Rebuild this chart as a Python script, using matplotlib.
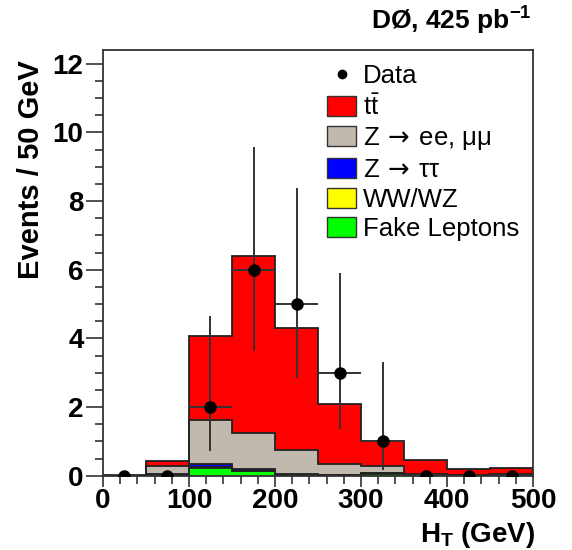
import numpy as np
import matplotlib
matplotlib.use("Agg")
import matplotlib.pyplot as plt
from matplotlib.patches import Patch
from matplotlib.lines import Line2D
from matplotlib.ticker import MultipleLocator

plt.rcParams['font.family'] = ['Liberation Sans', 'DejaVu Sans']
plt.rcParams['mathtext.default'] = 'regular'
plt.rcParams['mathtext.fontset'] = 'custom'
plt.rcParams['mathtext.rm'] = 'DejaVu Sans'

# binning: 50 GeV bins in H_T
edges = np.arange(0, 550, 50)
centers = edges[:-1] + 25

# stacked backgrounds, bottom to top
fake = [0.00, 0.02, 0.23, 0.14, 0.02, 0.00, 0.06, 0.00, 0.00, 0.00]
wwwz = [0.00, 0.01, 0.02, 0.01, 0.01, 0.01, 0.01, 0.00, 0.00, 0.00]
ztautau = [0.00, 0.01, 0.10, 0.04, 0.01, 0.01, 0.00, 0.00, 0.00, 0.00]
zll = [0.00, 0.25, 1.28, 1.05, 0.70, 0.33, 0.22, 0.05, 0.03, 0.05]
ttbar = [0.01, 0.13, 2.44, 5.16, 3.56, 1.74, 0.73, 0.42, 0.16, 0.19]

# data with asymmetric poisson errors
data = [0, 0, 2, 6, 5, 3, 1, 0, 0, 0]
err_lo = [0, 0, 1.29, 2.38, 2.16, 1.63, 0.83, 0, 0, 0]
err_hi = [0, 0, 2.64, 3.58, 3.38, 2.92, 2.30, 0, 0, 0]

components = [
    (fake, "#00ff00", "Fake Leptons"),
    (wwwz, "#ffff00", "WW/WZ"),
    (ztautau, "#0000ff", r"Z$\mathrm{\,\rightarrow\,}$ττ"),
    (zll, "#c2b9ae", r"Z$\mathrm{\,\rightarrow\,}$ee, μμ"),
    (ttbar, "#ff0000", r"$t\bar{t}$"),
]

fig = plt.figure(figsize=(5.72, 5.5), dpi=100)
ax = fig.add_axes([0.18, 0.135, 0.752, 0.774])

# cumulative sums, draw largest first
cums = np.cumsum([np.array(c[0]) for c in components], axis=0)
for i in range(len(components) - 1, -1, -1):
    ax.stairs(cums[i], edges, fill=True, facecolor=components[i][1],
              edgecolor="none", zorder=1 + (4 - i) * 0.01)
    ax.stairs(cums[i], edges, fill=False, color="#222222", lw=1.3,
              zorder=2 + (4 - i) * 0.01)

xerr = [25 if d > 0 else 0 for d in data]
ax.errorbar(centers, data, yerr=[err_lo, err_hi], xerr=xerr, fmt='o',
            color='black', ecolor='#333333', elinewidth=1.4, markersize=8,
            capsize=0, zorder=5)

ax.set_xlim(0, 500)
ax.set_ylim(0, 12.4)
ax.xaxis.set_major_locator(MultipleLocator(100))
ax.xaxis.set_minor_locator(MultipleLocator(20))
ax.yaxis.set_major_locator(MultipleLocator(2))
ax.yaxis.set_minor_locator(MultipleLocator(0.5))
ax.tick_params(which='both', direction='out', top=False, right=False,
               width=1.2, colors='#333333', labelcolor='black')
ax.tick_params(axis='y', which='major', length=12, labelsize=20, pad=2)
ax.tick_params(axis='x', which='major', length=8, labelsize=20, pad=1)
ax.tick_params(which='minor', length=6)
for lab in ax.get_xticklabels() + ax.get_yticklabels():
    lab.set_fontweight('bold')
for s in ax.spines.values():
    s.set_linewidth(1.3)
    s.set_color('#333333')

ax.set_xlabel(r"H$_T$ (GeV)", fontsize=20, fontweight='bold', loc='right')
ax.xaxis.set_label_coords(1.005, -0.103)
ax.set_ylabel("Events / 50 GeV", fontsize=21, fontweight='bold', loc='top')
ax.yaxis.set_label_coords(-0.135, 0.977)

handles = [Line2D([], [], marker='o', color='black', ls='none', markersize=6)]
labels = ["Data"]
for vals, col, lab in components[::-1]:
    handles.append(Patch(facecolor=col, edgecolor='#333333', lw=1))
    labels.append(lab)
ax.legend(handles, labels, loc='upper left', bbox_to_anchor=(0.488, 1.0),
          frameon=False, fontsize=18.5, handlelength=1.13, handleheight=0.82,
          handletextpad=0.28, labelspacing=0.22, borderaxespad=0.2,
          borderpad=0.35)

fig.text(0.93, 0.962, r"DØ, 425 pb$^{-1}$", ha='right', va='center',
         fontsize=19, fontweight='bold')

fig.savefig("out.png", dpi=100)
